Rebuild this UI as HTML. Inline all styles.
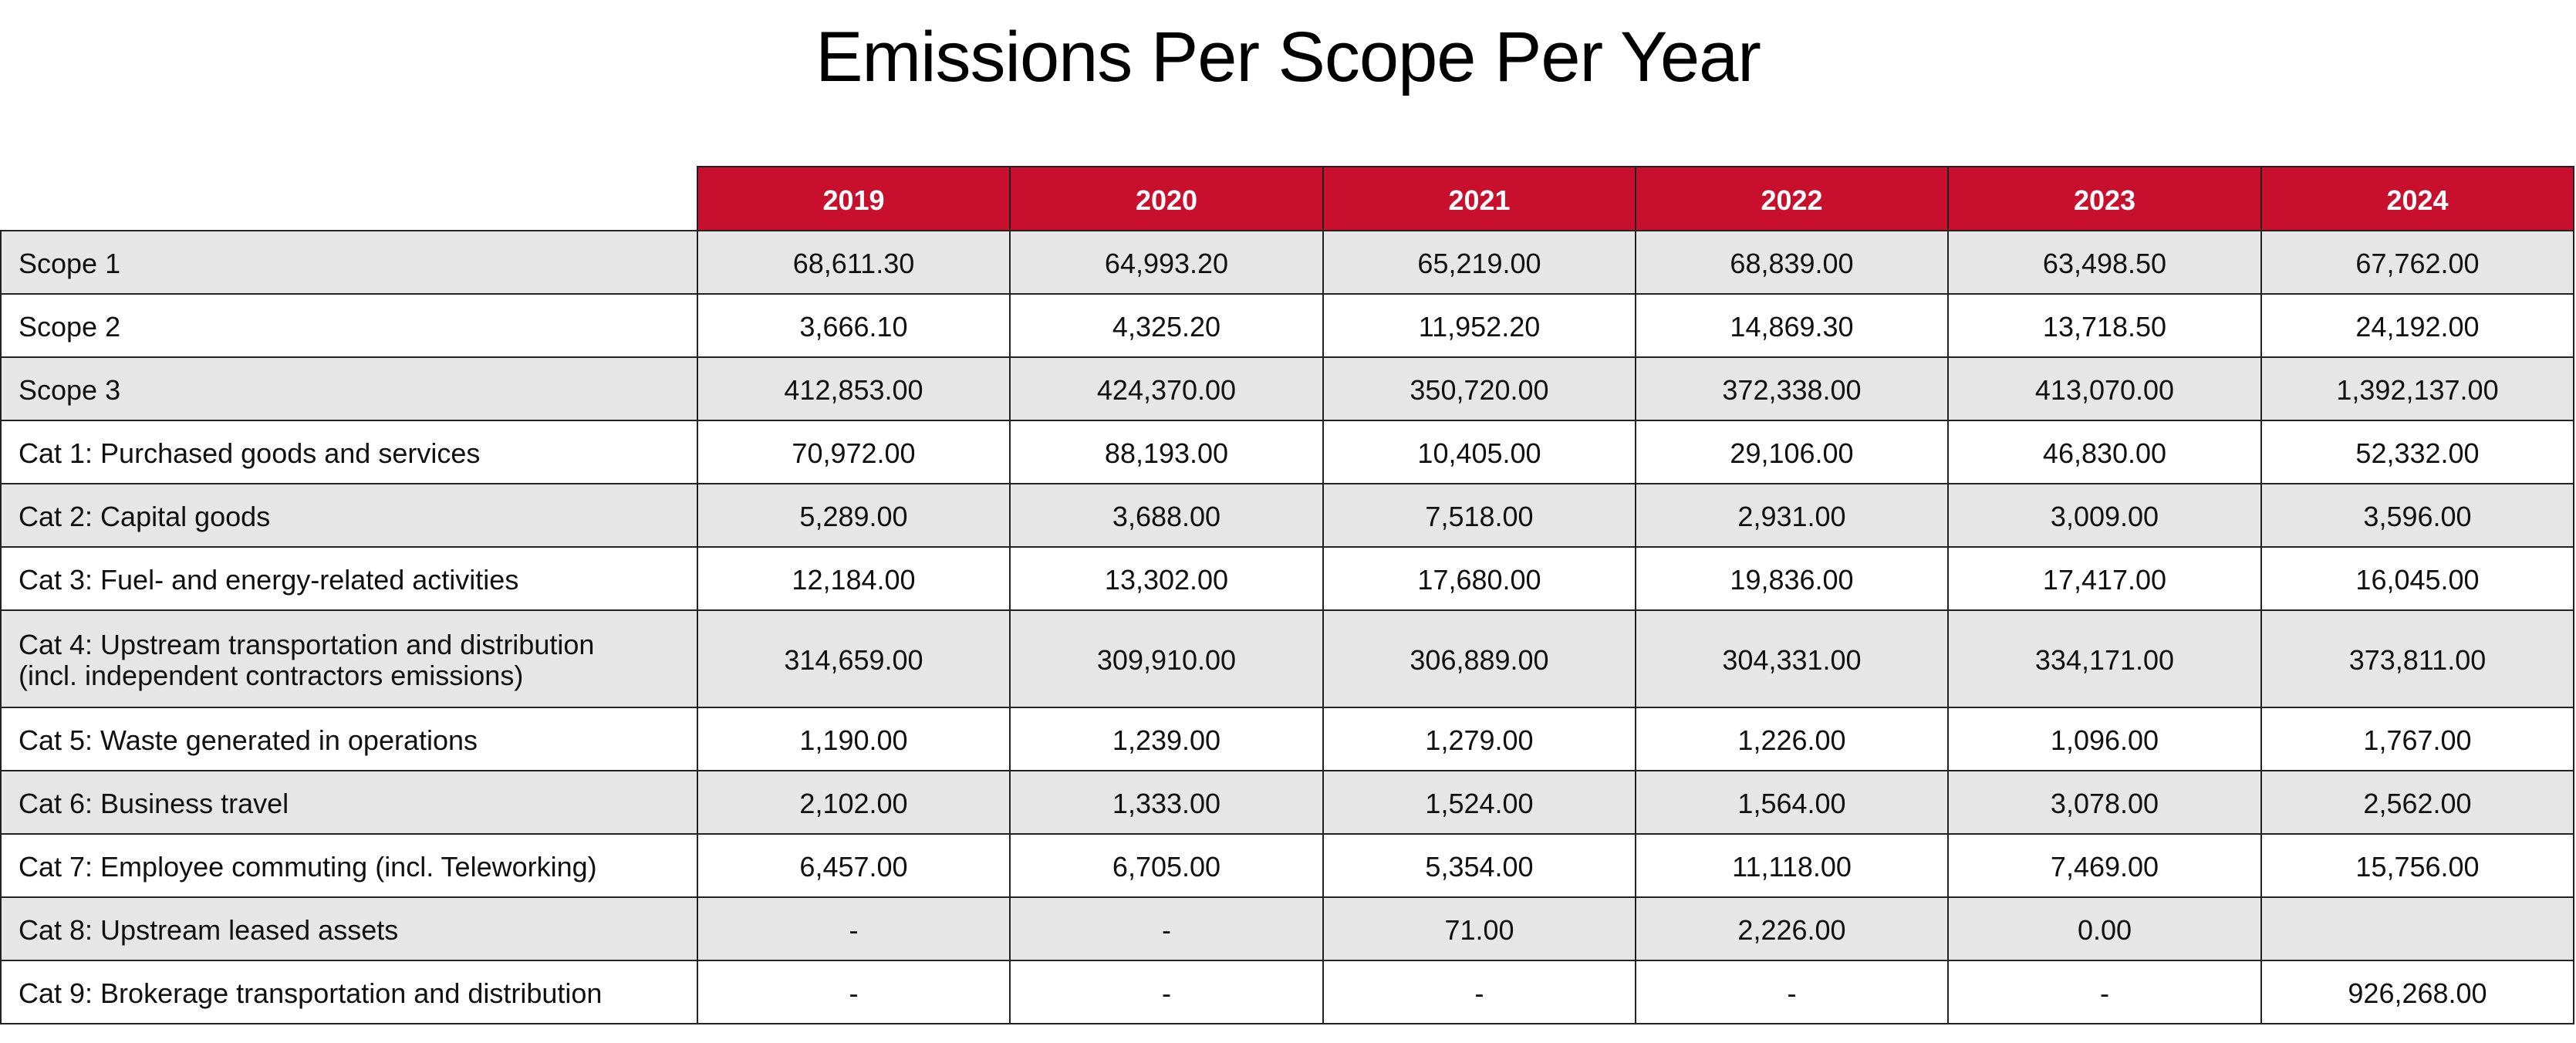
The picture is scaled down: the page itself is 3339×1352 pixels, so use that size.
<!DOCTYPE html>
<html><head><meta charset="utf-8"><style>
html,body{margin:0;padding:0;background:#fff;width:3339px;height:1352px;overflow:hidden;font-family:"Liberation Sans",sans-serif;}
h1{position:absolute;left:0;width:3339px;top:22px;margin:0;text-align:center;font-weight:normal;font-size:92px;color:#000;letter-spacing:-1px;}
table{position:absolute;left:0;top:215px;border-collapse:collapse;table-layout:fixed;font-size:36px;color:#111;}
td,th{border:2.5px solid #222;padding:0;text-align:center;line-height:40px;box-sizing:border-box;}
th{background:#c8102e;color:#fff;font-weight:bold;height:83px;padding-top:4px;}
th.e{background:#fff;border:none;border-bottom:2.5px solid #222;}
td{height:82px;padding-top:3px;}
td:first-child{text-align:left;padding-left:22px;}
tr.g td{background:#e6e6e6;}
tr.t td{height:126px;}
</style></head><body>
<h1>Emissions Per Scope Per Year</h1>
<table>
<colgroup><col style="width:903px"><col style="width:405px"><col style="width:406px"><col style="width:405px"><col style="width:405px"><col style="width:406px"><col style="width:405px"></colgroup>
<tr><th class="e"></th><th>2019</th><th>2020</th><th>2021</th><th>2022</th><th>2023</th><th>2024</th></tr>
<tr class="g"><td>Scope 1</td><td>68,611.30</td><td>64,993.20</td><td>65,219.00</td><td>68,839.00</td><td>63,498.50</td><td>67,762.00</td></tr>
<tr><td>Scope 2</td><td>3,666.10</td><td>4,325.20</td><td>11,952.20</td><td>14,869.30</td><td>13,718.50</td><td>24,192.00</td></tr>
<tr class="g"><td>Scope 3</td><td>412,853.00</td><td>424,370.00</td><td>350,720.00</td><td>372,338.00</td><td>413,070.00</td><td>1,392,137.00</td></tr>
<tr><td>Cat 1: Purchased goods and services</td><td>70,972.00</td><td>88,193.00</td><td>10,405.00</td><td>29,106.00</td><td>46,830.00</td><td>52,332.00</td></tr>
<tr class="g"><td>Cat 2: Capital goods</td><td>5,289.00</td><td>3,688.00</td><td>7,518.00</td><td>2,931.00</td><td>3,009.00</td><td>3,596.00</td></tr>
<tr><td>Cat 3: Fuel- and energy-related activities</td><td>12,184.00</td><td>13,302.00</td><td>17,680.00</td><td>19,836.00</td><td>17,417.00</td><td>16,045.00</td></tr>
<tr class="g t"><td>Cat 4: Upstream transportation and distribution<br>(incl. independent contractors emissions)</td><td>314,659.00</td><td>309,910.00</td><td>306,889.00</td><td>304,331.00</td><td>334,171.00</td><td>373,811.00</td></tr>
<tr><td>Cat 5: Waste generated in operations</td><td>1,190.00</td><td>1,239.00</td><td>1,279.00</td><td>1,226.00</td><td>1,096.00</td><td>1,767.00</td></tr>
<tr class="g"><td>Cat 6: Business travel</td><td>2,102.00</td><td>1,333.00</td><td>1,524.00</td><td>1,564.00</td><td>3,078.00</td><td>2,562.00</td></tr>
<tr><td>Cat 7: Employee commuting (incl. Teleworking)</td><td>6,457.00</td><td>6,705.00</td><td>5,354.00</td><td>11,118.00</td><td>7,469.00</td><td>15,756.00</td></tr>
<tr class="g"><td>Cat 8: Upstream leased assets</td><td>-</td><td>-</td><td>71.00</td><td>2,226.00</td><td>0.00</td><td></td></tr>
<tr><td>Cat 9: Brokerage transportation and distribution</td><td>-</td><td>-</td><td>-</td><td>-</td><td>-</td><td>926,268.00</td></tr>
</table>
</body></html>
